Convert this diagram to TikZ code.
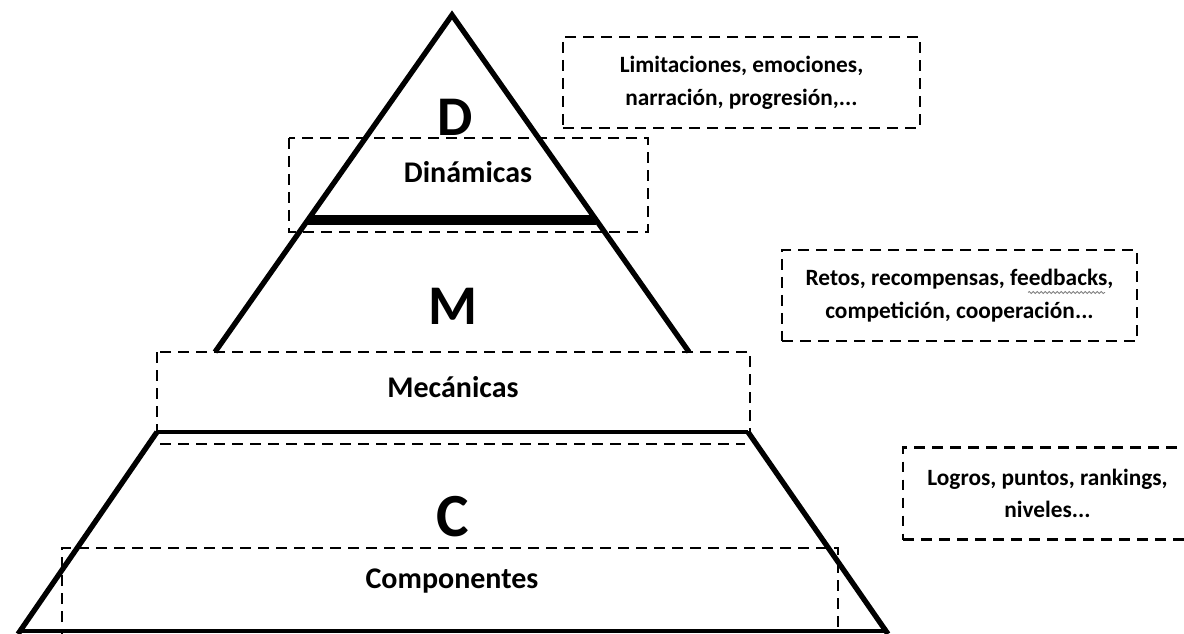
\documentclass[tikz,border=0pt]{standalone}
\usepackage{fontspec}
\setmainfont{Carlito}
\usetikzlibrary{decorations.pathmorphing}

\tikzset{every picture/.style={line width=0.75pt}}
\tikzset{
  dashbox/.style={draw, dash pattern={on 8pt off 5.5pt}, line width=1.7pt},
  notebox/.style={dashbox, align=center, inner sep=0pt,
    font=\fontsize{17.5}{24.5}\selectfont\bfseries},
  bigletter/.style={inner sep=0.75pt, font=\fontsize{42}{42}\selectfont\bfseries},
  levellabel/.style={inner sep=0.75pt, font=\fontsize{22.5}{24}\selectfont\bfseries},
  pyramid/.style={line width=4pt, line join=miter},
  squiggle/.style={draw=gray, line width=0.6pt, decorate,
    decoration={snake, amplitude=0.8pt, segment length=3pt}}
}

\begin{document}
\begin{tikzpicture}[x=0.75pt,y=0.75pt,yscale=-1,xscale=1]
\useasboundingbox (0,0) rectangle (1184,634);

%Shape: Rectangle [id:dinamicas-box]
\draw [dashbox] (289,138) rectangle (648,232) ;
%Shape: Rectangle [id:mecanicas-box]
\draw [dashbox] (157,352) rectangle (750,432) ;
%Straight Lines [id:componentes-top]
\draw [dashbox] (160,444) -- (745,444) ;
%Shape: Rectangle [id:componentes-box]
\draw [dashbox] (62,640) -- (62,548) -- (838,548) -- (838,640) ;

%Shape: Triangle [id:top]
\draw [pyramid] (215,352) -- (452,15) -- (689,352) ;
%Straight Lines [id:bar-d]
\draw [line width=7.5pt] (308,220) -- (596,220) ;
%Straight Lines [id:bar-m]
\draw [line width=3.5pt] (157,432) -- (748,432) ;
%Shape: Trapezoid [id:bottom]
\draw [pyramid] (18,634) -- (157,432) ;
\draw [pyramid] (748,432) -- (888,634) ;
\draw [line width=2.5pt] (18,631) -- (888,631) ;

% Text Node
\node (letD) [bigletter] at (455,117) {D};
% Text Node
\node (letM) [bigletter] at (453,306) {M};
% Text Node
\node (letC) [bigletter, font=\fontsize{46}{46}\selectfont\bfseries] at (453,517) {C};
% Text Node
\node (dyn) [levellabel] at (468,172) {Dinámicas};
% Text Node
\node (mec) [levellabel] at (453,387) {Mecánicas};
% Text Node
\node (comp) [levellabel] at (452,581) {Componentes};

% Text Node
\node (lim) [notebox, minimum width=267.75pt, minimum height=68.25pt] at (741.5,82.5)
  {Limitaciones, emociones,\\narración, progresión,...};
% Text Node
\node (ret) [notebox, minimum width=266.25pt, minimum height=68.25pt] at (959.5,295.5)
  {Retos, recompensas, feedbacks,\\competición, cooperación...};
% Text Node
\node (log) [notebox, minimum width=216.75pt, minimum height=69pt] at (1047.5,493.5)
  {Logros, puntos, rankings,\\niveles...};

%Curve Lines [id:spellcheck]
\draw [squiggle] (1028,292.5) -- (1105,292.5) ;

\end{tikzpicture}
\end{document}
